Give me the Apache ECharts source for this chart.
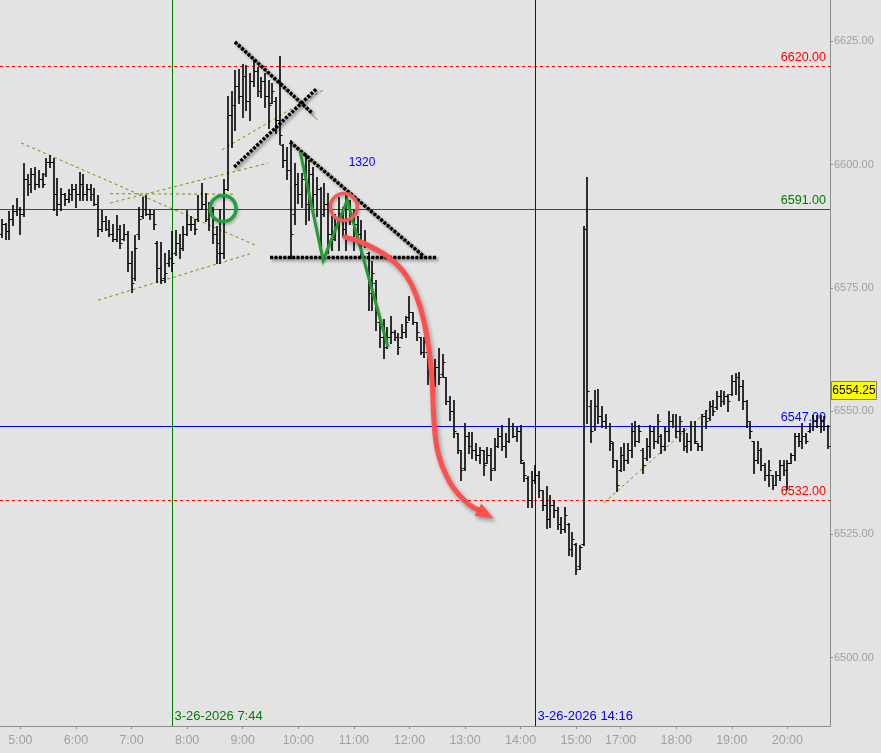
<!DOCTYPE html>
<html>
<head>
<meta charset="utf-8">
<title>ES 4 min bars</title>
<script src="https://cdn.jsdelivr.net/npm/echarts@6/dist/echarts.min.js"></script>
<style>
  html, body { margin: 0; padding: 0; background: #e3e3e3; }
  #chart { width: 881px; height: 753px; }
</style>
</head>
<body>
<div id="chart"></div>
<script>
// 4 minute bars, index 0 = 4:40
const opens = [
  6586, 6588, 6586.5, 6589, 6590.5, 6591, 6590, 6597, 6596, 6598,
  6596, 6597, 6598, 6600.5, 6600.5, 6594, 6592, 6594, 6593, 6594,
  6595, 6594, 6596, 6594, 6595, 6594, 6592, 6587, 6588.5, 6587,
  6586, 6585, 6587, 6585, 6586, 6580, 6577, 6586, 6589.5, 6591,
  6590, 6590, 6584, 6579, 6577, 6580, 6581, 6582, 6584, 6583,
  6586, 6588, 6588, 6589, 6591, 6592, 6589, 6590, 6586, 6584,
  6582, 6595, 6610, 6612, 6616, 6614, 6618, 6613, 6617, 6619,
  6615, 6617, 6614, 6612.5, 6613, 6609, 6604, 6601, 6599, 6590,
  6596, 6594, 6597, 6592, 6598, 6594, 6595, 6590, 6592, 6586,
  6585, 6588, 6590, 6587, 6591, 6590, 6588, 6586, 6584.5, 6582,
  6574, 6576, 6568, 6565, 6563, 6565, 6566, 6565, 6565, 6566,
  6569, 6570, 6568, 6565, 6562, 6562, 6558, 6556, 6559, 6557.5,
  6557, 6552, 6550, 6545.5, 6542, 6538.5, 6545, 6543, 6542, 6541,
  6542, 6539.5, 6541, 6538.5, 6543, 6545, 6543, 6544, 6547, 6545,
  6546, 6539.5, 6536.5, 6532, 6536, 6537, 6534, 6531, 6528, 6531,
  6530, 6527, 6526, 6527, 6522, 6523, 6518.5, 6523, 6587, 6551,
  6547, 6551, 6549, 6548, 6547, 6543.5, 6540, 6538, 6541, 6540,
  6542, 6546, 6544, 6542, 6540.5, 6543, 6546, 6544, 6545, 6543,
  6546, 6548, 6547, 6546, 6546, 6543, 6544, 6547, 6543.5, 6543,
  6549, 6548.5, 6551, 6550.75, 6553, 6552, 6553, 6553.5, 6556, 6557,
  6555, 6552, 6548, 6544, 6540, 6542, 6539, 6537, 6537, 6535,
  6537, 6539, 6538, 6539.5, 6541, 6545, 6544, 6545, 6546, 6547,
  6548, 6547, 6548, 6547
];
const highs = [
  6589, 6588.25, 6590.5, 6591.75, 6593.25, 6591.5, 6600.25, 6598, 6599.25, 6599.5,
  6599, 6598.25, 6601.25, 6602, 6601.25, 6597.25, 6595.25, 6594.25, 6595, 6596,
  6596, 6598.5, 6598, 6596, 6596, 6595.25, 6593.75, 6590.75, 6589.5, 6588.75,
  6588, 6589.75, 6587.75, 6588, 6586.5, 6582.5, 6585.75, 6591.5, 6593.5, 6593.75,
  6591, 6590.75, 6584.5, 6584.25, 6582, 6582.75, 6586.5, 6586.75, 6586, 6587.5,
  6590.75, 6589.5, 6589, 6593.75, 6596.25, 6594.25, 6592.5, 6591.5, 6587.5, 6591,
  6597, 6614, 6615, 6619.25, 6619.5, 6620.5, 6620.25, 6618.5, 6621.25, 6619.75,
  6617.75, 6618.5, 6617.25, 6616.5, 6613.75, 6622, 6604.25, 6603.5, 6605, 6600.25,
  6598.25, 6598.25, 6602.25, 6601, 6599.5, 6597.5, 6595.5, 6596.25, 6594.25, 6589.5,
  6590, 6593.5, 6591.5, 6594.25, 6592.75, 6590.75, 6589.5, 6588.75, 6586.75, 6582.25,
  6580.5, 6576.5, 6568.75, 6568.75, 6567, 6569.25, 6566.5, 6565.75, 6567.75, 6569.25,
  6573.25, 6570, 6568, 6565, 6565, 6562, 6560, 6560.5, 6562.75, 6561.5,
  6557, 6553, 6552.25, 6545.5, 6542, 6547.5, 6545.75, 6545.75, 6543.5, 6542.75,
  6542, 6542.75, 6542.5, 6544.5, 6546.5, 6547.25, 6545.5, 6548.5, 6547.5, 6546.75,
  6547.25, 6539.75, 6536.75, 6537.75, 6539, 6537.75, 6534, 6534.75, 6533, 6532,
  6530.5, 6528.5, 6530.5, 6527.25, 6525.5, 6523.25, 6522.75, 6587.5, 6597.5, 6552.25,
  6554.25, 6554.5, 6551, 6549.5, 6547.5, 6543.75, 6540, 6542.75, 6543.5, 6543.5,
  6547.5, 6548, 6547.25, 6542.5, 6544.5, 6547.25, 6546.75, 6549.5, 6545.25, 6546.75,
  6550, 6549.5, 6549.5, 6549, 6546.5, 6545.5, 6548, 6548, 6543.5, 6549.5,
  6550.25, 6552, 6552.25, 6554, 6554.25, 6554, 6553.5, 6557.25, 6557.75, 6558,
  6556.25, 6552.25, 6548, 6544, 6544, 6542.5, 6539.5, 6540, 6537, 6537.75,
  6540, 6540, 6540, 6541.5, 6545.5, 6545.5, 6547.5, 6545.5, 6547.5, 6549.25,
  6549.25, 6549.25, 6549, 6547.25
];
const lows = [
  6585.25, 6585, 6585, 6587.75, 6589.75, 6586, 6589.5, 6593.75, 6594.5, 6595,
  6595.5, 6595.5, 6597.75, 6599.5, 6590.75, 6589.75, 6590.75, 6591.75, 6592.5, 6592.75,
  6591.5, 6592.75, 6592.75, 6592.75, 6592.75, 6591.75, 6585.5, 6586.5, 6586.75, 6585.5,
  6584.5, 6584.5, 6583, 6584.75, 6578.5, 6574.25, 6576.5, 6585, 6589.25, 6589.75,
  6589, 6587, 6576.25, 6576, 6576.25, 6579.5, 6578.5, 6581.75, 6581, 6582.75,
  6585.75, 6586.75, 6586, 6588.5, 6591, 6588.5, 6586.75, 6584, 6580, 6580,
  6581, 6594.75, 6603.5, 6607, 6612.5, 6609.75, 6611, 6609, 6616, 6614,
  6613.75, 6611.75, 6607.5, 6612.5, 6606.5, 6604.25, 6599.5, 6597, 6581, 6588,
  6592.25, 6591.5, 6588, 6588.75, 6591.5, 6589.5, 6582.75, 6589.5, 6582, 6582.75,
  6584.75, 6582.75, 6585.5, 6582.75, 6588, 6582.75, 6584, 6581.25, 6583.25, 6570.5,
  6570.5, 6566.5, 6563, 6560.75, 6562.75, 6563.75, 6564.5, 6561.5, 6564.75, 6565,
  6568.5, 6567.75, 6564.5, 6561.5, 6561, 6555.5, 6553.5, 6555, 6555.5, 6557,
  6551.5, 6548.25, 6544.75, 6541.5, 6536, 6538, 6541.5, 6540.5, 6540, 6539.5,
  6537, 6539.5, 6536, 6538, 6542.75, 6542, 6540.75, 6543.75, 6544.75, 6544,
  6539.5, 6535.75, 6530.5, 6530.5, 6535.5, 6532.5, 6530, 6526.25, 6526.5, 6528.5,
  6526, 6525.25, 6525.5, 6520.75, 6520.5, 6517, 6518, 6522.75, 6547.5, 6543.75,
  6546.25, 6547.5, 6546.75, 6546.5, 6542, 6538.75, 6533.75, 6537.75, 6538, 6539.5,
  6540.75, 6543, 6543.75, 6537.5, 6540, 6540.75, 6542.5, 6543.5, 6541.5, 6542,
  6544, 6546.75, 6544.75, 6544, 6542, 6541.75, 6542, 6543.5, 6542, 6542,
  6546.5, 6548.25, 6549.25, 6550.5, 6551, 6551.5, 6550, 6553.25, 6553.5, 6552.25,
  6550.5, 6546.75, 6544.5, 6537.5, 6539.5, 6538, 6536, 6534.75, 6534.25, 6535,
  6536, 6537, 6534.25, 6539.5, 6540, 6543, 6542.5, 6543.5, 6545.75, 6546.25,
  6546.75, 6545.75, 6546.25, 6542.5
];
const closes = [
  6588, 6586.5, 6589, 6590.5, 6591, 6590, 6597, 6596, 6598, 6596,
  6597, 6596, 6600.5, 6600.5, 6594, 6592, 6594, 6593, 6594, 6595,
  6594, 6596, 6594, 6595, 6594, 6592, 6587, 6588.5, 6587, 6586,
  6585, 6587, 6584, 6586, 6580, 6576, 6583, 6589, 6591, 6590,
  6590, 6588, 6579, 6576.5, 6578, 6581, 6580, 6584, 6583, 6586,
  6588, 6588, 6587, 6591, 6592, 6589, 6590, 6586, 6582, 6582,
  6595, 6610, 6612, 6616, 6614, 6618, 6613, 6617, 6619, 6615,
  6617, 6614, 6612, 6615, 6609, 6606, 6601, 6599, 6586, 6596,
  6594, 6597, 6592, 6598, 6594, 6595, 6590, 6592, 6586, 6585,
  6588, 6590, 6587, 6591, 6590, 6588, 6586, 6584, 6584, 6574,
  6578, 6570, 6565, 6563, 6565, 6566, 6565, 6563, 6566, 6568,
  6570, 6568, 6566, 6562, 6564, 6558, 6556, 6559, 6557, 6560,
  6552, 6550, 6546, 6542, 6538, 6545, 6543, 6542, 6541, 6542,
  6539, 6541, 6538, 6543, 6545, 6543, 6544, 6547, 6545, 6546,
  6540, 6537, 6532, 6536, 6537, 6534, 6531, 6528, 6531, 6530,
  6527, 6526, 6529, 6522, 6524, 6518, 6522.5, 6587, 6554, 6546,
  6551, 6549, 6548, 6547, 6544, 6540, 6535, 6541, 6540, 6542,
  6546, 6544, 6546, 6539, 6543, 6546, 6544, 6548, 6543, 6546,
  6548, 6547, 6546, 6548, 6543, 6544, 6547, 6544, 6543, 6549,
  6548, 6551, 6550, 6553, 6552, 6553, 6552, 6556, 6557, 6555,
  6552, 6548, 6546, 6540, 6542, 6539, 6537, 6538, 6535, 6537,
  6539, 6538, 6539.5, 6541, 6545, 6544, 6545, 6544, 6547, 6548,
  6547, 6548, 6547, 6543
];

// time axis: bar index of each hour label
const timeTickBars = [5, 20, 35, 50, 65, 80, 95, 110, 125, 140, 155, 167, 182, 197, 212];
const timeTickLabels = ['5:00', '6:00', '7:00', '8:00', '9:00', '10:00', '11:00', '12:00',
  '13:00', '14:00', '15:00', '17:00', '18:00', '19:00', '20:00'];
const priceTicks = [6500, 6525, 6550, 6575, 6600, 6625];

// horizontal price levels and vertical time markers
const levelPrices = [6620, 6591, 6547, 6532];
const vLineBars = [46, 144];
const vLineLabels = ['3-26-2026 7:44', '3-26-2026 14:16'];
const lastPrice = 6554.25;

// drawings, in [bar, price] units
const oliveDashed = [
  [5.2, 6604.4, 68.9, 6583.5],
  [26.0, 6572.5, 67.0, 6581.9],
  [29.2, 6592.2, 71.8, 6600.3],
  [29.2, 6594.1, 62.4, 6594.0],
  [59.4, 6603.0, 86.7, 6615.1],
  [162.5, 6531.4, 191.9, 6551.0]
];
const oliveSolid = [
  [62.9, 6624.9, 85.3, 6609.0],
  [77.8, 6604.6, 113.7, 6581.5],
  [72.4, 6581.15, 117.4, 6581.15]
];
const dottedLines = [
  [62.9, 6624.9, 83.7, 6610.5],
  [62.7, 6599.5, 85.1, 6615.5],
  [77.8, 6604.6, 113.7, 6581.5],
  [72.4, 6581.15, 117.4, 6581.15]
];
const zigzag = [[80.5, 6602.6], [86.7, 6580.6], [93.2, 6592.8], [104.2, 6563.0]];
const greenCircle = [59.7, 6591.1];
const redCircle = [92.3, 6591.4];
const arrowPath = [
  [92.6, 6585.3], [97.5, 6584.1], [104.2, 6581.3], [109.4, 6577.2], [112.9, 6571.1],
  [115.0, 6563.8], [116.1, 6556.3], [116.6, 6548.2], [117.7, 6541.5], [121.0, 6535.4],
  [125.5, 6531.4], [128.5, 6530.0]
];
const arrowTip = [131.8, 6528.6];
const noteText = ['1320', 97.2, 6600.3];

const FONT = 'Liberation Sans';
const AXIS_GRAY = '#8c8c8c';
const LABEL_GRAY = '#a0a0a0';
const levelColors = ['#ff0000', '#007800', '#0000ff', '#ff0000'];
const levelDashed = [true, false, false, true];
const vLineColors = ['#008000', '#0000ff'];

const chart = echarts.init(document.getElementById('chart'));

const barData = opens.map((o, i) => [i, o, highs[i], lows[i], closes[i]]);

function segRender(style) {
  return function (params, api) {
    const a = api.coord([api.value(0), api.value(1)]);
    const b = api.coord([api.value(2), api.value(3)]);
    return { type: 'line', shape: { x1: a[0], y1: a[1], x2: b[0], y2: b[1] }, style: style };
  };
}

const option = {
  animation: false,
  backgroundColor: '#e3e3e3',
  grid: { left: 0, right: 51, top: 0, bottom: 27 },
  xAxis: {
    type: 'value',
    min: -0.5,
    max: 223.5,
    splitLine: { show: false },
    axisLine: { show: true, onZero: false, lineStyle: { color: AXIS_GRAY } },
    axisTick: { show: true, customValues: timeTickBars, length: 3, lineStyle: { color: AXIS_GRAY } },
    axisLabel: {
      customValues: timeTickBars,
      formatter: v => timeTickLabels[timeTickBars.indexOf(v)],
      color: LABEL_GRAY, fontFamily: FONT, fontSize: 12.5, margin: 8
    }
  },
  yAxis: {
    type: 'value',
    position: 'right',
    min: 6486.1,
    max: 6633.4,
    splitLine: { show: false },
    axisLine: { show: true, onZero: false, lineStyle: { color: AXIS_GRAY } },
    axisTick: { show: true, customValues: priceTicks, length: 3, lineStyle: { color: AXIS_GRAY } },
    axisLabel: {
      customValues: priceTicks,
      formatter: v => v.toFixed(2),
      color: LABEL_GRAY, fontFamily: FONT, fontSize: 11, margin: 4
    }
  },
  series: [
    {
      // olive dashed trend lines
      type: 'custom', silent: true,
      data: oliveDashed,
      encode: { x: [0, 2], y: [1, 3] },
      renderItem: segRender({ stroke: '#8a8a00', lineWidth: 1, lineDash: [3, 3] })
    },
    {
      type: 'custom', silent: true,
      data: oliveSolid,
      encode: { x: [0, 2], y: [1, 3] },
      renderItem: segRender({ stroke: '#8a8a00', lineWidth: 1 })
    },
    {
      // price levels
      type: 'custom', silent: true,
      data: levelPrices.map(p => [0, p]),
      encode: { x: 0, y: 1 },
      renderItem: function (params, api) {
        const cs = params.coordSys;
        const idx = params.dataIndex;
        const p = api.value(1);
        const y = Math.round(api.coord([0, p])[1]) + 0.5;
        const color = levelColors[idx];
        return {
          type: 'group',
          children: [
            { type: 'line', shape: { x1: cs.x, y1: y, x2: cs.x + cs.width, y2: y },
              style: { stroke: color, lineWidth: 1, lineDash: levelDashed[idx] ? [3, 3] : null } },
            { type: 'text', x: cs.x + cs.width - 4, y: y - 2,
              style: { text: p.toFixed(2), fill: color, font: '12.5px ' + FONT, textAlign: 'right', textVerticalAlign: 'bottom' } }
          ]
        };
      }
    },
    {
      // vertical time markers
      type: 'custom', silent: true,
      data: vLineBars.map(b => [b, 6500]),
      encode: { x: 0, y: 1 },
      renderItem: function (params, api) {
        const cs = params.coordSys;
        const idx = params.dataIndex;
        const x = Math.round(api.coord([api.value(0), 6500])[0]) + 0.5;
        const color = vLineColors[idx];
        return {
          type: 'group',
          children: [
            { type: 'line', shape: { x1: x, y1: cs.y, x2: x, y2: cs.y + cs.height },
              style: { stroke: color, lineWidth: 1 } },
            { type: 'text', x: x + 2, y: cs.y + cs.height - 3,
              style: { text: vLineLabels[idx], fill: color, font: '13px ' + FONT, textAlign: 'left', textVerticalAlign: 'bottom' } }
          ]
        };
      }
    },
    {
      // OHLC bars
      type: 'custom', silent: true,
      data: barData,
      encode: { x: 0, y: [1, 2, 3, 4] },
      renderItem: function (params, api) {
        const i = api.value(0);
        const hi = api.coord([i, api.value(2)]);
        const lo = api.coord([i, api.value(3)]);
        const op = api.coord([i, api.value(1)]);
        const cl = api.coord([i, api.value(4)]);
        const x = Math.round(hi[0]);
        const oy = Math.round(op[1]) + 0.5;
        const cy = Math.round(cl[1]) + 0.5;
        return {
          type: 'group',
          children: [
            { type: 'line', shape: { x1: x, y1: Math.round(hi[1]), x2: x, y2: Math.round(lo[1]) + 1 },
              style: { stroke: '#000', lineWidth: 1.6 } },
            { type: 'line', shape: { x1: x - 2.5, y1: oy, x2: x, y2: oy }, style: { stroke: '#000', lineWidth: 1 } },
            { type: 'line', shape: { x1: x, y1: cy, x2: x + 2.5, y2: cy }, style: { stroke: '#000', lineWidth: 1 } }
          ]
        };
      }
    },
    {
      // heavy dotted drawn lines
      type: 'custom', silent: true,
      data: dottedLines,
      encode: { x: [0, 2], y: [1, 3] },
      renderItem: segRender({
        stroke: '#000', lineWidth: 3.5, lineDash: [3, 1.4],
        shadowColor: 'rgba(0,0,0,0.45)', shadowBlur: 3, shadowOffsetX: 2, shadowOffsetY: 2
      })
    },
    {
      // green zig-zag
      type: 'custom', silent: true,
      data: [0],
      renderItem: function (params, api) {
        return {
          type: 'polyline',
          shape: { points: zigzag.map(p => api.coord(p)) },
          style: { stroke: '#239b35', lineWidth: 3, fill: null, lineJoin: 'miter',
            shadowColor: 'rgba(0,0,0,0.2)', shadowBlur: 2, shadowOffsetX: 1, shadowOffsetY: 1 }
        };
      }
    },
    {
      // circles
      type: 'custom', silent: true,
      data: [greenCircle, redCircle],
      encode: { x: 0, y: 1 },
      renderItem: function (params, api) {
        const c = api.coord([api.value(0), api.value(1)]);
        const green = params.dataIndex === 0;
        return {
          type: 'circle',
          shape: { cx: c[0], cy: c[1], r: green ? 13 : 13.5 },
          style: { fill: null, stroke: green ? '#22a03a' : '#f25a5a', lineWidth: 3.5,
            shadowColor: 'rgba(0,0,0,0.25)', shadowBlur: 3, shadowOffsetX: 1, shadowOffsetY: 2 }
        };
      }
    },
    {
      // red curved arrow
      type: 'custom', silent: true,
      data: [0],
      renderItem: function (params, api) {
        const pts = arrowPath.map(p => api.coord(p));
        const b = pts[pts.length - 1];
        const t = api.coord(arrowTip);
        const dx = t[0] - b[0], dy = t[1] - b[1];
        const len = Math.sqrt(dx * dx + dy * dy);
        const nx = -dy / len * 7, ny = dx / len * 7;
        const shadow = { shadowColor: 'rgba(0,0,0,0.35)', shadowBlur: 4, shadowOffsetX: 2, shadowOffsetY: 3 };
        return {
          type: 'group',
          children: [
            { type: 'polyline', shape: { points: pts, smooth: 0.35 },
              style: Object.assign({ stroke: '#ff4f4f', lineWidth: 5, fill: null, lineCap: 'round' }, shadow) },
            { type: 'polygon', shape: { points: [[t[0] + dx / len * 4, t[1] + dy / len * 4], [b[0] + nx, b[1] + ny], [b[0] - nx, b[1] - ny]] },
              style: Object.assign({ fill: '#ff4f4f' }, shadow) }
          ]
        };
      }
    },
    {
      // text note
      type: 'custom', silent: true,
      data: [[noteText[1], noteText[2]]],
      encode: { x: 0, y: 1 },
      renderItem: function (params, api) {
        const c = api.coord([api.value(0), api.value(1)]);
        return { type: 'text', x: c[0], y: c[1],
          style: { text: noteText[0], fill: '#0000ff', font: '12px ' + FONT, textAlign: 'center', textVerticalAlign: 'middle' } };
      }
    },
    {
      // last price box on the price scale
      type: 'custom', silent: true, clip: false,
      data: [[223, lastPrice]],
      encode: { x: 0, y: 1 },
      renderItem: function (params, api) {
        const cs = params.coordSys;
        const y = Math.round(api.coord([223, api.value(1)])[1]);
        const x = cs.x + cs.width + 1;
        return {
          type: 'group',
          children: [
            { type: 'rect', shape: { x: x + 0.5, y: y - 8.5, width: 45, height: 18 },
              style: { fill: '#ffff00', stroke: '#808080', lineWidth: 1 } },
            { type: 'text', x: x + 23, y: y + 0.5,
              style: { text: api.value(1).toFixed(2), fill: '#000', font: '12px ' + FONT, textAlign: 'center', textVerticalAlign: 'middle' } }
          ]
        };
      }
    }
  ]
};

chart.setOption(option);
</script>
</body>
</html>
